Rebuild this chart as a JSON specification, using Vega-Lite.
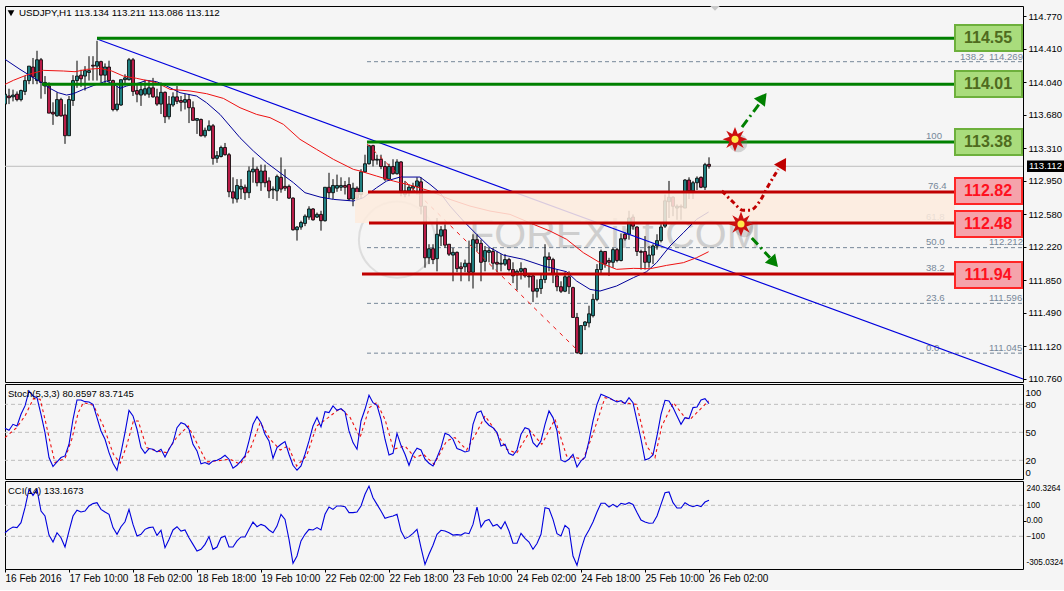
{
"$schema":"https://vega.github.io/schema/vega-lite/v6.json",
"background":"#F5F5F5",
"padding":{"left":2,"top":5,"right":0,"bottom":6},
"spacing":2,
"bounds":"flush",
"config":{"scale":{"continuousPadding":0},"view":{"stroke":"#000000","strokeWidth":1,"fill":"#F5F5F5"},"text":{"font":"Liberation Sans"},"axis":{"labelFont":"Liberation Sans","labelFontSize":9.5,"labelColor":"#000000","tickColor":"#000000","domain":false,"grid":false,"labelBound":false}},
"datasets":{
"candles":[
{"bar":0,"open":113.80,"high":113.91,"low":113.58,"close":113.91},{"bar":1,"open":113.89,"high":113.97,"low":113.80,"close":113.87},{"bar":2,"open":113.88,"high":113.96,"low":113.83,"close":113.90},{"bar":3,"open":113.91,"high":113.94,"low":113.83,"close":113.85},{"bar":4,"open":113.85,"high":113.96,"low":113.83,"close":113.95},{"bar":5,"open":113.94,"high":114.11,"low":113.90,"close":114.06},{"bar":6,"open":114.06,"high":114.22,"low":114.02,"close":114.22},{"bar":7,"open":114.21,"high":114.31,"low":114.02,"close":114.10},{"bar":8,"open":114.06,"high":114.39,"low":114.02,"close":114.29},{"bar":9,"open":114.29,"high":114.31,"low":113.86,"close":114.04},
{"bar":10,"open":114.00,"high":114.11,"low":113.91,"close":114.04},{"bar":11,"open":114.00,"high":114.04,"low":113.70,"close":113.70},{"bar":12,"open":113.71,"high":113.82,"low":113.57,"close":113.69},{"bar":13,"open":113.67,"high":113.93,"low":113.66,"close":113.85},{"bar":14,"open":113.85,"high":113.87,"low":113.66,"close":113.67},{"bar":15,"open":113.68,"high":113.80,"low":113.36,"close":113.45},{"bar":16,"open":113.45,"high":113.89,"low":113.45,"close":113.85},{"bar":17,"open":113.84,"high":114.12,"low":113.78,"close":114.06},{"bar":18,"open":114.06,"high":114.28,"low":113.98,"close":114.11},{"bar":19,"open":114.12,"high":114.18,"low":113.99,"close":114.08},
{"bar":20,"open":114.11,"high":114.22,"low":113.95,"close":114.17},{"bar":21,"open":114.15,"high":114.33,"low":114.06,"close":114.17},{"bar":22,"open":114.23,"high":114.33,"low":114.06,"close":114.22},{"bar":23,"open":114.22,"high":114.50,"low":114.06,"close":114.27},{"bar":24,"open":114.27,"high":114.28,"low":114.04,"close":114.12},{"bar":25,"open":114.12,"high":114.25,"low":114.02,"close":114.21},{"bar":26,"open":114.21,"high":114.28,"low":114.04,"close":114.06},{"bar":27,"open":114.06,"high":114.07,"low":113.72,"close":113.74},{"bar":28,"open":113.74,"high":114.00,"low":113.72,"close":113.80},{"bar":29,"open":113.79,"high":114.07,"low":113.78,"close":114.07},
{"bar":30,"open":114.07,"high":114.13,"low":114.03,"close":114.09},{"bar":31,"open":114.07,"high":114.31,"low":114.06,"close":114.29},{"bar":32,"open":114.29,"high":114.31,"low":113.89,"close":113.94},{"bar":33,"open":113.95,"high":114.01,"low":113.82,"close":113.91},{"bar":34,"open":113.90,"high":114.04,"low":113.78,"close":113.96},{"bar":35,"open":113.91,"high":114.07,"low":113.89,"close":113.97},{"bar":36,"open":113.91,"high":114.06,"low":113.87,"close":113.98},{"bar":37,"open":113.98,"high":114.09,"low":113.87,"close":113.88},{"bar":38,"open":113.88,"high":113.97,"low":113.78,"close":113.80},{"bar":39,"open":113.80,"high":114.04,"low":113.69,"close":113.93},
{"bar":40,"open":113.93,"high":113.94,"low":113.59,"close":113.66},{"bar":41,"open":113.66,"high":113.89,"low":113.63,"close":113.80},{"bar":42,"open":113.79,"high":113.93,"low":113.77,"close":113.88},{"bar":43,"open":113.88,"high":114.00,"low":113.80,"close":113.83},{"bar":44,"open":113.84,"high":113.89,"low":113.72,"close":113.82},{"bar":45,"open":113.82,"high":113.91,"low":113.74,"close":113.85},{"bar":46,"open":113.85,"high":113.91,"low":113.59,"close":113.76},{"bar":47,"open":113.76,"high":113.83,"low":113.62,"close":113.62},{"bar":48,"open":113.62,"high":113.64,"low":113.47,"close":113.64},{"bar":49,"open":113.63,"high":113.64,"low":113.44,"close":113.45},
{"bar":50,"open":113.45,"high":113.54,"low":113.43,"close":113.51},{"bar":51,"open":113.51,"high":113.62,"low":113.50,"close":113.56},{"bar":52,"open":113.56,"high":113.58,"low":113.13,"close":113.20},{"bar":53,"open":113.20,"high":113.28,"low":113.15,"close":113.23},{"bar":54,"open":113.22,"high":113.34,"low":113.21,"close":113.32},{"bar":55,"open":113.32,"high":113.37,"low":113.23,"close":113.24},{"bar":56,"open":113.24,"high":113.26,"low":112.77,"close":112.83},{"bar":57,"open":112.83,"high":112.99,"low":112.70,"close":112.76},{"bar":58,"open":112.75,"high":112.97,"low":112.71,"close":112.90},{"bar":59,"open":112.86,"high":112.97,"low":112.75,"close":112.89},
{"bar":60,"open":112.88,"high":112.91,"low":112.74,"close":112.82},{"bar":61,"open":112.82,"high":113.11,"low":112.76,"close":113.06},{"bar":62,"open":113.05,"high":113.21,"low":112.93,"close":113.08},{"bar":63,"open":113.08,"high":113.11,"low":112.89,"close":112.93},{"bar":64,"open":112.93,"high":113.13,"low":112.84,"close":113.06},{"bar":65,"open":113.06,"high":113.13,"low":112.88,"close":112.93},{"bar":66,"open":112.95,"high":112.99,"low":112.76,"close":112.84},{"bar":67,"open":112.85,"high":112.89,"low":112.75,"close":112.86},{"bar":68,"open":112.84,"high":113.02,"low":112.73,"close":113.00},{"bar":69,"open":112.99,"high":113.21,"low":112.82,"close":112.86},
{"bar":70,"open":112.89,"high":113.08,"low":112.84,"close":112.87},{"bar":71,"open":112.89,"high":112.91,"low":112.75,"close":112.76},{"bar":72,"open":112.76,"high":112.77,"low":112.40,"close":112.41},{"bar":73,"open":112.41,"high":112.45,"low":112.29,"close":112.44},{"bar":74,"open":112.44,"high":112.51,"low":112.41,"close":112.49},{"bar":75,"open":112.48,"high":112.58,"low":112.45,"close":112.56},{"bar":76,"open":112.55,"high":112.67,"low":112.52,"close":112.64},{"bar":77,"open":112.64,"high":112.65,"low":112.51,"close":112.52},{"bar":78,"open":112.55,"high":112.60,"low":112.54,"close":112.58},{"bar":79,"open":112.58,"high":112.62,"low":112.40,"close":112.51},
{"bar":80,"open":112.51,"high":112.88,"low":112.50,"close":112.88},{"bar":81,"open":112.88,"high":113.04,"low":112.76,"close":112.82},{"bar":82,"open":112.82,"high":112.97,"low":112.75,"close":112.90},{"bar":83,"open":112.87,"high":113.02,"low":112.83,"close":112.90},{"bar":84,"open":112.88,"high":112.99,"low":112.84,"close":112.90},{"bar":85,"open":112.90,"high":112.95,"low":112.80,"close":112.88},{"bar":86,"open":112.91,"high":112.99,"low":112.73,"close":112.75},{"bar":87,"open":112.75,"high":112.93,"low":112.67,"close":112.87},{"bar":88,"open":112.87,"high":112.89,"low":112.75,"close":112.76},{"bar":89,"open":112.80,"high":113.08,"low":112.75,"close":113.05},
{"bar":90,"open":113.05,"high":113.24,"low":113.04,"close":113.14},{"bar":91,"open":113.14,"high":113.35,"low":113.13,"close":113.34},{"bar":92,"open":113.34,"high":113.35,"low":113.11,"close":113.18},{"bar":93,"open":113.18,"high":113.24,"low":113.13,"close":113.19},{"bar":94,"open":113.19,"high":113.24,"low":113.08,"close":113.11},{"bar":95,"open":113.11,"high":113.17,"low":112.95,"close":112.97},{"bar":96,"open":112.97,"high":113.14,"low":112.95,"close":113.11},{"bar":97,"open":113.11,"high":113.19,"low":113.02,"close":113.03},{"bar":98,"open":113.03,"high":113.19,"low":113.02,"close":113.16},{"bar":99,"open":113.16,"high":113.17,"low":112.78,"close":112.84},
{"bar":100,"open":112.80,"high":112.95,"low":112.77,"close":112.84},{"bar":101,"open":112.84,"high":112.91,"low":112.78,"close":112.88},{"bar":102,"open":112.87,"high":112.93,"low":112.82,"close":112.89},{"bar":103,"open":112.89,"high":112.99,"low":112.80,"close":112.95},{"bar":104,"open":112.94,"high":112.99,"low":112.58,"close":112.67},{"bar":105,"open":112.67,"high":112.67,"low":111.99,"close":112.10},{"bar":106,"open":112.10,"high":112.25,"low":112.03,"close":112.20},{"bar":107,"open":112.20,"high":112.25,"low":112.03,"close":112.08},{"bar":108,"open":112.09,"high":112.54,"low":111.95,"close":112.36},{"bar":109,"open":112.34,"high":112.45,"low":112.23,"close":112.41},
{"bar":110,"open":112.41,"high":112.47,"low":112.21,"close":112.24},{"bar":111,"open":112.25,"high":112.25,"low":112.12,"close":112.14},{"bar":112,"open":112.13,"high":112.21,"low":111.84,"close":112.16},{"bar":113,"open":112.16,"high":112.17,"low":111.94,"close":111.98},{"bar":114,"open":112.00,"high":112.05,"low":111.84,"close":111.98},{"bar":115,"open":112.00,"high":112.08,"low":111.94,"close":112.04},{"bar":116,"open":112.04,"high":112.29,"low":111.84,"close":111.94},{"bar":117,"open":111.94,"high":112.36,"low":111.76,"close":112.30},{"bar":118,"open":112.30,"high":112.36,"low":112.17,"close":112.26},{"bar":119,"open":112.26,"high":112.30,"low":111.84,"close":112.05},
{"bar":120,"open":112.06,"high":112.23,"low":111.95,"close":112.18},{"bar":121,"open":112.16,"high":112.21,"low":112.05,"close":112.18},{"bar":122,"open":112.17,"high":112.21,"low":111.97,"close":112.04},{"bar":123,"open":112.05,"high":112.17,"low":111.94,"close":112.03},{"bar":124,"open":112.03,"high":112.14,"low":111.95,"close":112.04},{"bar":125,"open":112.03,"high":112.14,"low":112.01,"close":112.08},{"bar":126,"open":112.08,"high":112.10,"low":111.95,"close":111.97},{"bar":127,"open":111.97,"high":112.05,"low":111.82,"close":111.90},{"bar":128,"open":111.91,"high":111.97,"low":111.74,"close":111.95},{"bar":129,"open":111.95,"high":112.05,"low":111.86,"close":111.98},
{"bar":130,"open":111.98,"high":111.99,"low":111.88,"close":111.90},{"bar":131,"open":111.90,"high":111.92,"low":111.77,"close":111.89},{"bar":132,"open":111.90,"high":111.92,"low":111.61,"close":111.73},{"bar":133,"open":111.73,"high":111.86,"low":111.66,"close":111.76},{"bar":134,"open":111.76,"high":111.92,"low":111.70,"close":111.86},{"bar":135,"open":111.86,"high":112.25,"low":111.82,"close":112.11},{"bar":136,"open":112.11,"high":112.16,"low":111.95,"close":112.08},{"bar":137,"open":112.08,"high":112.10,"low":111.82,"close":111.92},{"bar":138,"open":111.90,"high":111.97,"low":111.73,"close":111.78},{"bar":139,"open":111.78,"high":111.84,"low":111.71,"close":111.73},
{"bar":140,"open":111.73,"high":111.94,"low":111.72,"close":111.89},{"bar":141,"open":111.89,"high":111.95,"low":111.70,"close":111.78},{"bar":142,"open":111.77,"high":111.78,"low":111.44,"close":111.44},{"bar":143,"open":111.44,"high":111.49,"low":111.04,"close":111.05},{"bar":144,"open":111.04,"high":111.35,"low":111.03,"close":111.35},{"bar":145,"open":111.35,"high":111.40,"low":111.30,"close":111.39},{"bar":146,"open":111.38,"high":111.57,"low":111.33,"close":111.48},{"bar":147,"open":111.46,"high":111.70,"low":111.44,"close":111.64},{"bar":148,"open":111.64,"high":112.03,"low":111.62,"close":111.97},{"bar":149,"open":111.97,"high":112.19,"low":111.92,"close":112.17},
{"bar":150,"open":112.17,"high":112.17,"low":111.99,"close":112.03},{"bar":151,"open":112.07,"high":112.10,"low":111.90,"close":112.05},{"bar":152,"open":112.05,"high":112.21,"low":111.99,"close":112.19},{"bar":153,"open":112.19,"high":112.21,"low":112.05,"close":112.07},{"bar":154,"open":112.07,"high":112.37,"low":112.06,"close":112.31},{"bar":155,"open":112.36,"high":112.38,"low":112.29,"close":112.31},{"bar":156,"open":112.36,"high":112.62,"low":112.30,"close":112.54},{"bar":157,"open":112.55,"high":112.58,"low":112.41,"close":112.45},{"bar":158,"open":112.44,"high":112.45,"low":112.12,"close":112.17},{"bar":159,"open":112.17,"high":112.19,"low":111.97,"close":112.16},
{"bar":160,"open":112.17,"high":112.34,"low":111.97,"close":112.05},{"bar":161,"open":112.05,"high":112.23,"low":111.99,"close":112.13},{"bar":162,"open":112.13,"high":112.25,"low":112.03,"close":112.23},{"bar":163,"open":112.23,"high":112.36,"low":112.19,"close":112.29},{"bar":164,"open":112.29,"high":112.47,"low":112.27,"close":112.44},{"bar":165,"open":112.45,"high":112.80,"low":112.43,"close":112.73},{"bar":166,"open":112.72,"high":112.95,"low":112.54,"close":112.77},{"bar":167,"open":112.77,"high":112.78,"low":112.56,"close":112.67},{"bar":168,"open":112.65,"high":112.69,"low":112.52,"close":112.67},{"bar":169,"open":112.67,"high":112.69,"low":112.52,"close":112.66},
{"bar":170,"open":112.65,"high":112.97,"low":112.65,"close":112.96},{"bar":171,"open":112.96,"high":112.99,"low":112.75,"close":112.84},{"bar":172,"open":112.84,"high":112.95,"low":112.75,"close":112.93},{"bar":173,"open":112.93,"high":113.00,"low":112.85,"close":112.98},{"bar":174,"open":112.99,"high":113.00,"low":112.87,"close":112.88},{"bar":175,"open":112.88,"high":113.15,"low":112.85,"close":113.13},{"bar":176,"open":113.134,"high":113.211,"low":113.086,"close":113.112}
],
"maFast":[{"bar":0,"price":114.295},{"bar":3.75,"price":114.184},{"bar":7.1,"price":114.092},{"bar":9.2,"price":114.037},{"bar":11.25,"price":113.974},{"bar":13.3,"price":113.926},{"bar":15.4,"price":113.9},{"bar":17.1,"price":113.915},{"bar":19.6,"price":113.963},{"bar":22.9,"price":114.018},{"bar":25.4,"price":114.055},{"bar":27.5,"price":114.011},{"bar":28.75,"price":113.974},{"bar":30.4,"price":114.0},{"bar":33.75,"price":114.037},{"bar":35.4,"price":114.063},{"bar":37.9,"price":114.048},{"bar":40.4,"price":114.0},{"bar":43.75,"price":113.926},{"bar":47.9,"price":113.889},{"bar":50.4,"price":113.815},{"bar":53.75,"price":113.686},{"bar":56.25,"price":113.557},{"bar":58.75,"price":113.428},{"bar":62.1,"price":113.281},{"bar":65.4,"price":113.152},{"bar":68.75,"price":113.041},{"bar":72.1,"price":112.931},{"bar":75,"price":112.82},{"bar":78.75,"price":112.772},{"bar":82.1,"price":112.746},{"bar":87.1,"price":112.728},{"bar":89.6,"price":112.765},{"bar":92.9,"price":112.875},{"bar":95.4,"price":112.949},{"bar":98.75,"price":112.993},{"bar":103.75,"price":112.993},{"bar":106.25,"price":112.912},{"bar":108.75,"price":112.82},{"bar":111.25,"price":112.672},{"bar":114.6,"price":112.507},{"bar":117.9,"price":112.359},{"bar":121.25,"price":112.212},{"bar":124.6,"price":112.13},{"bar":129.6,"price":112.083},{"bar":134.6,"price":112.009},{"bar":140.4,"price":111.946},{"bar":142.9,"price":111.843},{"bar":146.25,"price":111.751},{"bar":148.75,"price":111.732},{"bar":152.9,"price":111.788},{"bar":157.1,"price":111.88},{"bar":160.4,"price":111.946},{"bar":162.9,"price":112.046},{"bar":166.25,"price":112.23},{"bar":169.6,"price":112.377},{"bar":172.9,"price":112.525},{"bar":175.9,"price":112.606}],
"maSlow":[{"bar":0,"price":114.018},{"bar":2.1,"price":114.063},{"bar":5.4,"price":114.121},{"bar":9.6,"price":114.173},{"bar":14.6,"price":114.166},{"bar":17.5,"price":114.158},{"bar":20.4,"price":114.184},{"bar":23.75,"price":114.195},{"bar":26.7,"price":114.166},{"bar":29.6,"price":114.11},{"bar":32.9,"price":114.085},{"bar":37.9,"price":114.037},{"bar":41.25,"price":113.963},{"bar":46.25,"price":113.945},{"bar":50.4,"price":113.915},{"bar":54.6,"price":113.863},{"bar":58.75,"price":113.76},{"bar":62.9,"price":113.686},{"bar":66.25,"price":113.65},{"bar":69.6,"price":113.576},{"bar":73.75,"price":113.41},{"bar":77.9,"price":113.299},{"bar":82.1,"price":113.189},{"bar":87.1,"price":113.078},{"bar":88.75,"price":113.06},{"bar":92.9,"price":113.004},{"bar":97.1,"price":112.949},{"bar":102.1,"price":112.894},{"bar":106.25,"price":112.838},{"bar":111.25,"price":112.746},{"bar":116.25,"price":112.672},{"bar":121.25,"price":112.617},{"bar":126.25,"price":112.58},{"bar":132.1,"price":112.47},{"bar":136.25,"price":112.396},{"bar":140.4,"price":112.304},{"bar":144.6,"price":112.156},{"bar":148.75,"price":112.046},{"bar":152.9,"price":111.972},{"bar":157.1,"price":111.983},{"bar":161.25,"price":111.979},{"bar":165.4,"price":112.016},{"bar":169.6,"price":112.046},{"bar":172.9,"price":112.101},{"bar":175.9,"price":112.167}],
"stochMain":[{"bar":0,"value":54.4},{"bar":1,"value":52.2},{"bar":2,"value":58.6},{"bar":3,"value":56.8},{"bar":4,"value":69.3},{"bar":5,"value":78.3},{"bar":6,"value":94.3},{"bar":7,"value":89},{"bar":8,"value":87.2},{"bar":9,"value":69.3},{"bar":10,"value":49.7},{"bar":11,"value":23},{"bar":12,"value":13.3},{"bar":13,"value":18.3},{"bar":14,"value":23},{"bar":15,"value":24.7},{"bar":16,"value":37.2},{"bar":17,"value":64},{"bar":18,"value":84.7},{"bar":19,"value":84.7},{"bar":20,"value":82.9},{"bar":21,"value":82.6},{"bar":22,"value":80},{"bar":23,"value":65.8},{"bar":24,"value":51.5},{"bar":25,"value":42.6},{"bar":26,"value":28.3},{"bar":27,"value":16.9},{"bar":28,"value":9.4},{"bar":29,"value":28.3},{"bar":30,"value":49.7},{"bar":31,"value":73.6},{"bar":32,"value":67.6},{"bar":33,"value":53.3},{"bar":34,"value":33.6},{"bar":35,"value":27.6},{"bar":36,"value":32.6},{"bar":37,"value":31.9},{"bar":38,"value":29},{"bar":39,"value":31.9},{"bar":40,"value":23.6},{"bar":41,"value":31.9},{"bar":42,"value":39},{"bar":43,"value":55},{"bar":44,"value":60.4},{"bar":45,"value":58.6},{"bar":46,"value":53.3},{"bar":47,"value":37.2},{"bar":48,"value":30.1},{"bar":49,"value":16.2},{"bar":50,"value":17.6},{"bar":51,"value":15.8},{"bar":52,"value":19.4},{"bar":53,"value":20.1},{"bar":54,"value":22.2},{"bar":55,"value":25.4},{"bar":56,"value":21.2},{"bar":57,"value":11.5},{"bar":58,"value":14.7},{"bar":59,"value":19.4},{"bar":60,"value":24.7},{"bar":61,"value":40.8},{"bar":62,"value":58.6},{"bar":63,"value":66.8},{"bar":64,"value":60.4},{"bar":65,"value":47.9},{"bar":66,"value":40.8},{"bar":67,"value":22.2},{"bar":68,"value":33.6},{"bar":69,"value":37.2},{"bar":70,"value":40.1},{"bar":71,"value":26.5},{"bar":72,"value":14.7},{"bar":73,"value":9.4},{"bar":74,"value":14},{"bar":75,"value":26.5},{"bar":76,"value":40.8},{"bar":77,"value":56.8},{"bar":78,"value":65.8},{"bar":79,"value":55.8},{"bar":80,"value":72.2},{"bar":81,"value":71.1},{"bar":82,"value":78.3},{"bar":83,"value":73.6},{"bar":84,"value":75.4},{"bar":85,"value":71.8},{"bar":86,"value":51.5},{"bar":87,"value":39},{"bar":88,"value":31.9},{"bar":89,"value":62.2},{"bar":90,"value":74.7},{"bar":91,"value":89.7},{"bar":92,"value":81.8},{"bar":93,"value":79},{"bar":94,"value":64},{"bar":95,"value":42.6},{"bar":96,"value":25.8},{"bar":97,"value":27.6},{"bar":98,"value":49},{"bar":99,"value":36.1},{"bar":100,"value":26.5},{"bar":101,"value":14.7},{"bar":102,"value":26.5},{"bar":103,"value":32.9},{"bar":104,"value":31.1},{"bar":105,"value":21.2},{"bar":106,"value":16.9},{"bar":107,"value":14},{"bar":108,"value":23},{"bar":109,"value":33.6},{"bar":110,"value":49},{"bar":111,"value":47.2},{"bar":112,"value":42.6},{"bar":113,"value":32.6},{"bar":114,"value":31.1},{"bar":115,"value":29},{"bar":116,"value":30.1},{"bar":117,"value":58.6},{"bar":118,"value":71.1},{"bar":119,"value":72.9},{"bar":120,"value":62.2},{"bar":121,"value":57.6},{"bar":122,"value":55},{"bar":123,"value":49.7},{"bar":124,"value":35.4},{"bar":125,"value":37.2},{"bar":126,"value":27.2},{"bar":127,"value":25.4},{"bar":128,"value":31.1},{"bar":129,"value":47.9},{"bar":130,"value":55},{"bar":131,"value":53.3},{"bar":132,"value":39},{"bar":133,"value":34.4},{"bar":134,"value":40.8},{"bar":135,"value":58.6},{"bar":136,"value":72.9},{"bar":137,"value":65.8},{"bar":138,"value":51.5},{"bar":139,"value":20.4},{"bar":140,"value":18.3},{"bar":141,"value":21.2},{"bar":142,"value":26.5},{"bar":143,"value":12.9},{"bar":144,"value":19.4},{"bar":145,"value":23},{"bar":146,"value":40.8},{"bar":147,"value":62.2},{"bar":148,"value":80},{"bar":149,"value":90.8},{"bar":150,"value":89},{"bar":151,"value":87.2},{"bar":152,"value":84.7},{"bar":153,"value":82.6},{"bar":154,"value":84},{"bar":155,"value":80.8},{"bar":156,"value":87.2},{"bar":157,"value":81.8},{"bar":158,"value":62.2},{"bar":159,"value":42.6},{"bar":160,"value":20.4},{"bar":161,"value":21.9},{"bar":162,"value":25.8},{"bar":163,"value":46.1},{"bar":164,"value":69.3},{"bar":165,"value":84.3},{"bar":166,"value":83.6},{"bar":167,"value":76.5},{"bar":168,"value":67.6},{"bar":169,"value":58.6},{"bar":170,"value":65.8},{"bar":171,"value":64.7},{"bar":172,"value":76.5},{"bar":173,"value":77.2},{"bar":174,"value":84.7},{"bar":175,"value":86.1},{"bar":176,"value":80.86}],
"stochSignal":[{"bar":0,"value":44.4},{"bar":2.9,"value":55},{"bar":5,"value":67.6},{"bar":7.1,"value":86.1},{"bar":8.8,"value":85.4},{"bar":10,"value":64},{"bar":11.3,"value":39},{"bar":12.5,"value":17.6},{"bar":15,"value":21.9},{"bar":16.7,"value":42.6},{"bar":18.3,"value":71.1},{"bar":19.6,"value":81.8},{"bar":22.1,"value":79},{"bar":24.6,"value":56.8},{"bar":27.1,"value":26.5},{"bar":28.8,"value":16.9},{"bar":30.4,"value":35.4},{"bar":32.1,"value":62.2},{"bar":33.3,"value":62.2},{"bar":35.4,"value":33.6},{"bar":37.9,"value":30.1},{"bar":40.4,"value":28.3},{"bar":42.9,"value":44.4},{"bar":45.8,"value":56.8},{"bar":47.9,"value":39},{"bar":50.4,"value":18.3},{"bar":52.9,"value":19.4},{"bar":56.3,"value":21.2},{"bar":58.8,"value":15.8},{"bar":61.3,"value":31.9},{"bar":63.8,"value":60.4},{"bar":66.3,"value":42.6},{"bar":68.8,"value":31.1},{"bar":70.8,"value":35.4},{"bar":72.9,"value":14},{"bar":75.4,"value":24.7},{"bar":77.9,"value":56.8},{"bar":80.8,"value":65.8},{"bar":83.8,"value":75.8},{"bar":86.3,"value":65.8},{"bar":88.75,"value":44.4},{"bar":91.1,"value":76.5},{"bar":92.9,"value":81.8},{"bar":95,"value":64},{"bar":97.1,"value":31.9},{"bar":100,"value":35.4},{"bar":102.5,"value":22.9},{"bar":104.6,"value":26.5},{"bar":107.3,"value":15.8},{"bar":110.4,"value":40.8},{"bar":112.5,"value":44.4},{"bar":115.4,"value":31.1},{"bar":117.9,"value":49.7},{"bar":120,"value":67.6},{"bar":122.1,"value":55},{"bar":125.4,"value":31.9},{"bar":127.9,"value":27.6},{"bar":131.3,"value":51.5},{"bar":134.2,"value":37.2},{"bar":137.5,"value":64},{"bar":140.4,"value":24.7},{"bar":144.6,"value":21.2},{"bar":147.1,"value":49.7},{"bar":150,"value":87.2},{"bar":154.6,"value":81.8},{"bar":157.9,"value":80},{"bar":160.4,"value":35.4},{"bar":162.5,"value":22.9},{"bar":164.2,"value":56.8},{"bar":167.1,"value":81.8},{"bar":170,"value":65.8},{"bar":171.3,"value":64},{"bar":173.8,"value":74.7},{"bar":175.9,"value":83.7}],
"cci":[{"bar":0,"value":-77},{"bar":1,"value":-55},{"bar":2,"value":-40},{"bar":3,"value":-44},{"bar":4,"value":-12},{"bar":5,"value":85},{"bar":6,"value":203},{"bar":7,"value":164},{"bar":8,"value":203},{"bar":9,"value":63},{"bar":10,"value":31},{"bar":11,"value":-92},{"bar":12,"value":-137},{"bar":13,"value":-77},{"bar":14,"value":-109},{"bar":15,"value":-169},{"bar":16,"value":-66},{"bar":17,"value":31},{"bar":18,"value":68},{"bar":19,"value":57},{"bar":20,"value":63},{"bar":21,"value":96},{"bar":22,"value":111},{"bar":23,"value":117},{"bar":24,"value":74},{"bar":25,"value":57},{"bar":26,"value":42},{"bar":27,"value":-44},{"bar":28,"value":-87},{"bar":29,"value":-38},{"bar":30,"value":-6},{"bar":31,"value":74},{"bar":32,"value":-23},{"bar":33,"value":-98},{"bar":34,"value":-87},{"bar":35,"value":-55},{"bar":36,"value":-44},{"bar":37,"value":-40},{"bar":38,"value":-94},{"bar":39,"value":-61},{"bar":40,"value":-173},{"bar":41,"value":-120},{"bar":42,"value":-59},{"bar":43,"value":-38},{"bar":44,"value":-66},{"bar":45,"value":-59},{"bar":46,"value":-109},{"bar":47,"value":-152},{"bar":48,"value":-195},{"bar":49,"value":-184},{"bar":50,"value":-152},{"bar":51,"value":-102},{"bar":52,"value":-184},{"bar":53,"value":-169},{"bar":54,"value":-109},{"bar":55,"value":-98},{"bar":56,"value":-169},{"bar":57,"value":-169},{"bar":58,"value":-130},{"bar":59,"value":-104},{"bar":60,"value":-104},{"bar":61,"value":-55},{"bar":62,"value":-8},{"bar":63,"value":-38},{"bar":64,"value":-23},{"bar":65,"value":-34},{"bar":66,"value":-59},{"bar":67,"value":-77},{"bar":68,"value":-34},{"bar":69,"value":42},{"bar":70,"value":9},{"bar":71,"value":-120},{"bar":72,"value":-274},{"bar":73,"value":-227},{"bar":74,"value":-130},{"bar":75,"value":-87},{"bar":76,"value":-55},{"bar":77,"value":-59},{"bar":78,"value":-44},{"bar":79,"value":-59},{"bar":80,"value":42},{"bar":81,"value":89},{"bar":82,"value":74},{"bar":83,"value":96},{"bar":84,"value":96},{"bar":85,"value":91},{"bar":86,"value":53},{"bar":87,"value":53},{"bar":88,"value":57},{"bar":89,"value":96},{"bar":90,"value":171},{"bar":91,"value":224},{"bar":92,"value":149},{"bar":93,"value":106},{"bar":94,"value":63},{"bar":95,"value":16},{"bar":96,"value":25},{"bar":97,"value":31},{"bar":98,"value":42},{"bar":99,"value":-66},{"bar":100,"value":-115},{"bar":101,"value":-102},{"bar":102,"value":-81},{"bar":103,"value":-55},{"bar":104,"value":-173},{"bar":105,"value":-281},{"bar":106,"value":-216},{"bar":107,"value":-158},{"bar":108,"value":-87},{"bar":109,"value":-61},{"bar":110,"value":-66},{"bar":111,"value":-77},{"bar":112,"value":-92},{"bar":113,"value":-89},{"bar":114,"value":-92},{"bar":115,"value":-77},{"bar":116,"value":-83},{"bar":117,"value":-23},{"bar":118,"value":89},{"bar":119,"value":-40},{"bar":120,"value":-1},{"bar":121,"value":9},{"bar":122,"value":-34},{"bar":123,"value":-23},{"bar":124,"value":-51},{"bar":125,"value":-6},{"bar":126,"value":-66},{"bar":127,"value":-145},{"bar":128,"value":-145},{"bar":129,"value":-81},{"bar":130,"value":-113},{"bar":131,"value":-137},{"bar":132,"value":-184},{"bar":133,"value":-147},{"bar":134,"value":-87},{"bar":135,"value":85},{"bar":136,"value":78},{"bar":137,"value":9},{"bar":138,"value":-83},{"bar":139,"value":-98},{"bar":140,"value":-29},{"bar":141,"value":-51},{"bar":142,"value":-227},{"bar":143,"value":-287},{"bar":144,"value":-184},{"bar":145,"value":-104},{"bar":146,"value":-59},{"bar":147,"value":-8},{"bar":148,"value":57},{"bar":149,"value":113},{"bar":150,"value":113},{"bar":151,"value":89},{"bar":152,"value":106},{"bar":153,"value":89},{"bar":154,"value":113},{"bar":155,"value":106},{"bar":156,"value":117},{"bar":157,"value":106},{"bar":158,"value":53},{"bar":159,"value":5},{"bar":160,"value":-8},{"bar":161,"value":-16},{"bar":162,"value":-14},{"bar":163,"value":31},{"bar":164,"value":106},{"bar":165,"value":181},{"bar":166,"value":186},{"bar":167,"value":117},{"bar":168,"value":83},{"bar":169,"value":83},{"bar":170,"value":117},{"bar":171,"value":100},{"bar":172,"value":91},{"bar":173,"value":100},{"bar":174,"value":91},{"bar":175,"value":121},{"bar":176,"value":133.1673}],
"levels":[
{"label":"114.55","kind":"resistance","start":23,"end":254.5,"price":114.527,"boxTop":114.675,"boxBottom":114.387,"left":237.5,"right":254.25,"mid":245.75,"textPrice":114.53},
{"label":"114.01","kind":"resistance","start":9.25,"end":238,"price":114.02,"boxTop":114.166,"boxBottom":113.878,"left":237.5,"right":254.25,"mid":245.75,"textPrice":114.02},
{"label":"113.38","kind":"resistance","start":90.5,"end":254.5,"price":113.38,"boxTop":113.524,"boxBottom":113.237,"left":237.5,"right":254.25,"mid":245.75,"textPrice":113.38},
{"label":"112.82","kind":"support","start":90.75,"end":238,"price":112.827,"boxTop":112.982,"boxBottom":112.695,"left":237.5,"right":254.25,"mid":245.75,"textPrice":112.84},
{"label":"112.48","kind":"support","start":91,"end":238,"price":112.485,"boxTop":112.617,"boxBottom":112.33,"left":237.5,"right":254.25,"mid":245.75,"textPrice":112.474},
{"label":"111.94","kind":"support","start":89.25,"end":238,"price":111.921,"boxTop":112.053,"boxBottom":111.766,"left":237.5,"right":254.25,"mid":245.75,"textPrice":111.91}
],
"fibLevels":[{"price":114.269,"start":90.5,"end":254.25},{"price":112.212,"start":90.5,"end":254.25},{"price":111.596,"start":90.5,"end":254.25},{"price":111.045,"start":90.5,"end":254.25}],
"fibLabels":[
{"bar":238.75,"price":114.326,"label":"138.2"},{"bar":246,"price":114.326,"label":"114.269"},{"bar":230.25,"price":113.447,"label":"100"},{"bar":230.75,"price":112.894,"label":"76.4"},{"bar":230.25,"price":112.546,"label":"61.8"},{"bar":230.25,"price":112.275,"label":"50.0"},{"bar":246,"price":112.275,"label":"112.212"},{"bar":230.25,"price":111.99,"label":"38.2"},{"bar":230.25,"price":111.655,"label":"23.6"},{"bar":246,"price":111.655,"label":"111.596"},{"bar":230.25,"price":111.106,"label":"0.0"},{"bar":246,"price":111.106,"label":"111.045"}
]
},
"vconcat":[
{"width":1018,"height":376,
"resolve":{"scale":{"color":"independent","stroke":"independent"}},
"layer":[
{"data":{"values":[{"bar":0,"end":254.5,"price":113.112}]},"mark":{"type":"rule","color":"#BDBDBD","strokeWidth":1},
"encoding":{"x":{"field":"bar","type":"quantitative","axis":null,"scale":{"domain":[0,254.5]}},"x2":{"field":"end"},
"y":{"field":"price","type":"quantitative","scale":{"domain":[110.726,114.885]},"axis":{"title":null,"orient":"right","values":[114.77,114.41,114.04,113.68,113.31,112.95,112.58,112.22,111.85,111.49,111.12,110.76],"tickCount":20,"format":".3f","tickSize":3,"labelPadding":2,"labelOverlap":false}}}},
{"data":{"values":[{"bar":98,"price":112.3}]},"mark":{"type":"point","shape":"circle","size":5800,"filled":false,"stroke":"#D4D4D4","strokeWidth":2},
"encoding":{"x":{"field":"bar","type":"quantitative","axis":null,"scale":{"domain":[0,254.5]}},"y":{"field":"price","type":"quantitative","scale":{"domain":[110.726,114.885]}}}},
{"data":{"values":[{"bar":152.5,"price":112.34,"label":"FOREXint.COM"}]},"mark":{"type":"text","fontSize":41,"align":"center","baseline":"middle","color":"#BEBEBE","opacity":0.7},
"encoding":{"x":{"field":"bar","type":"quantitative","axis":null,"scale":{"domain":[0,254.5]}},"y":{"field":"price","type":"quantitative","scale":{"domain":[110.726,114.885]}},"text":{"field":"label"}}},
{"data":{"name":"fibLevels"},"mark":{"type":"rule","color":"#778899","strokeWidth":1,"strokeDash":[4,3]},
"encoding":{"x":{"field":"start","type":"quantitative","axis":null,"scale":{"domain":[0,254.5]}},"x2":{"field":"end"},"y":{"field":"price","type":"quantitative","scale":{"domain":[110.726,114.885]}}}},
{"data":{"name":"fibLabels"},"mark":{"type":"text","fontSize":9.6,"align":"left","baseline":"middle","color":"#778899"},
"encoding":{"x":{"field":"bar","type":"quantitative","axis":null,"scale":{"domain":[0,254.5]}},"y":{"field":"price","type":"quantitative","scale":{"domain":[110.726,114.885]}},"text":{"field":"label"}}},
{"data":{"name":"candles"},"mark":{"type":"rule","color":"#000000","strokeWidth":1,"clip":true},
"encoding":{"x":{"field":"bar","type":"quantitative","axis":null,"scale":{"domain":[0,254.5]}},"y":{"field":"high","type":"quantitative","scale":{"domain":[110.726,114.885]}},"y2":{"field":"low"}}},
{"data":{"name":"candles"},"mark":{"type":"bar","size":3,"orient":"vertical","stroke":"#000000","strokeWidth":0.8,"clip":true},
"encoding":{"x":{"field":"bar","type":"quantitative","axis":null,"scale":{"domain":[0,254.5]}},"y":{"field":"open","type":"quantitative","scale":{"domain":[110.726,114.885]}},"y2":{"field":"close"},"fill":{"condition":{"test":"datum.close>=datum.open","value":"#1F7F80"},"value":"#B81C48"}}},
{"data":{"values":[{"bar":23,"price":114.52},{"bar":254.5,"price":110.76}]},"mark":{"type":"line","color":"#0000DD","strokeWidth":1.1},
"encoding":{"x":{"field":"bar","type":"quantitative","axis":null,"scale":{"domain":[0,254.5]}},"y":{"field":"price","type":"quantitative","scale":{"domain":[110.726,114.885]}}}},
{"data":{"name":"maFast"},"mark":{"type":"line","color":"#000099","strokeWidth":1},
"encoding":{"x":{"field":"bar","type":"quantitative","axis":null,"scale":{"domain":[0,254.5]}},"y":{"field":"price","type":"quantitative","scale":{"domain":[110.726,114.885]}}}},
{"data":{"name":"maSlow"},"mark":{"type":"line","color":"#EE1111","strokeWidth":1},
"encoding":{"x":{"field":"bar","type":"quantitative","axis":null,"scale":{"domain":[0,254.5]}},"y":{"field":"price","type":"quantitative","scale":{"domain":[110.726,114.885]}}}},
{"data":{"values":[{"bar":90.5,"price":113.36},{"bar":143.75,"price":111.05}]},"mark":{"type":"line","color":"#EE1111","strokeWidth":1,"strokeDash":[4,5]},
"encoding":{"x":{"field":"bar","type":"quantitative","axis":null,"scale":{"domain":[0,254.5]}},"y":{"field":"price","type":"quantitative","scale":{"domain":[110.726,114.885]}}}},
{"data":{"values":[{"start":87.5,"end":237.5,"top":112.827,"bottom":112.485}]},"mark":{"type":"rect","fill":"#FDEBDD","opacity":0.86},
"encoding":{"x":{"field":"start","type":"quantitative","axis":null,"scale":{"domain":[0,254.5]}},"x2":{"field":"end"},"y":{"field":"top","type":"quantitative","scale":{"domain":[110.726,114.885]}},"y2":{"field":"bottom"}}},
{"data":{"name":"levels"},"mark":{"type":"rule","strokeWidth":3},
"encoding":{"x":{"field":"start","type":"quantitative","axis":null,"scale":{"domain":[0,254.5]}},"x2":{"field":"end"},"y":{"field":"price","type":"quantitative","scale":{"domain":[110.726,114.885]}},"color":{"field":"kind","type":"nominal","legend":null,"scale":{"domain":["resistance","support"],"range":["#008000","#C00000"]}}}},
{"data":{"name":"levels"},"mark":{"type":"rect","strokeWidth":2},
"encoding":{"x":{"field":"left","type":"quantitative","axis":null,"scale":{"domain":[0,254.5]}},"x2":{"field":"right"},"y":{"field":"boxTop","type":"quantitative","scale":{"domain":[110.726,114.885]}},"y2":{"field":"boxBottom"},"color":{"field":"kind","type":"nominal","legend":null,"scale":{"domain":["resistance","support"],"range":["#A9DC7C","#F5A3AB"]}},"stroke":{"field":"kind","type":"nominal","legend":null,"scale":{"domain":["resistance","support"],"range":["#6DB03C","#FF2525"]}}}},
{"data":{"name":"levels"},"mark":{"type":"text","fontSize":16,"fontWeight":"bold","align":"center","baseline":"middle"},
"encoding":{"x":{"field":"mid","type":"quantitative","axis":null,"scale":{"domain":[0,254.5]}},"y":{"field":"textPrice","type":"quantitative","scale":{"domain":[110.726,114.885]}},"text":{"field":"label"},"color":{"field":"kind","type":"nominal","legend":null,"scale":{"domain":["resistance","support"],"range":["#4F6B1E","#FF1020"]}}}},
{"data":{"values":[{"bar":184.25,"price":113.546},{"bar":188.75,"price":113.812}]},"mark":{"type":"line","color":"#008000","strokeWidth":3,"strokeDash":[9,4,2,4]},
"encoding":{"x":{"field":"bar","type":"quantitative","axis":null,"scale":{"domain":[0,254.5]}},"y":{"field":"price","type":"quantitative","scale":{"domain":[110.726,114.885]}}}},
{"data":{"values":[{"bar":186.7,"price":112.32},{"bar":191.25,"price":112.1}]},"mark":{"type":"line","color":"#008000","strokeWidth":3,"strokeDash":[9,4,2,4]},
"encoding":{"x":{"field":"bar","type":"quantitative","axis":null,"scale":{"domain":[0,254.5]}},"y":{"field":"price","type":"quantitative","scale":{"domain":[110.726,114.885]}}}},
{"data":{"values":[{"bar":179.2,"price":112.84},{"bar":181.7,"price":112.73},{"bar":184.6,"price":112.625},{"bar":186.25,"price":112.625},{"bar":188.75,"price":112.73},{"bar":190.8,"price":112.894},{"bar":193.3,"price":113.079}]},"mark":{"type":"line","color":"#C00000","strokeWidth":3,"strokeDash":[5,3,2,3],"interpolate":"monotone"},
"encoding":{"x":{"field":"bar","type":"quantitative","axis":null,"scale":{"domain":[0,254.5]}},"y":{"field":"price","type":"quantitative","scale":{"domain":[110.726,114.885]}}}},
{"data":{"values":[{"bar":189.5,"price":113.87}]},"mark":{"type":"point","shape":"triangle-up","filled":true,"size":190,"color":"#008000","opacity":1,"angle":37},
"encoding":{"x":{"field":"bar","type":"quantitative","axis":null,"scale":{"domain":[0,254.5]}},"y":{"field":"price","type":"quantitative","scale":{"domain":[110.726,114.885]}}}},
{"data":{"values":[{"bar":192.25,"price":112.046}]},"mark":{"type":"point","shape":"triangle-up","filled":true,"size":190,"color":"#008000","opacity":1,"angle":138},
"encoding":{"x":{"field":"bar","type":"quantitative","axis":null,"scale":{"domain":[0,254.5]}},"y":{"field":"price","type":"quantitative","scale":{"domain":[110.726,114.885]}}}},
{"data":{"values":[{"bar":194.5,"price":113.148}]},"mark":{"type":"point","shape":"triangle-up","filled":true,"size":190,"color":"#C00000","opacity":1,"angle":31},
"encoding":{"x":{"field":"bar","type":"quantitative","axis":null,"scale":{"domain":[0,254.5]}},"y":{"field":"price","type":"quantitative","scale":{"domain":[110.726,114.885]}}}},
{"data":{"values":[{"bar":183.3,"price":113.37},{"bar":184.8,"price":112.43}]},"mark":{"type":"point","shape":"circle","filled":true,"size":340,"color":"#777777","opacity":0.28},
"encoding":{"x":{"field":"bar","type":"quantitative","axis":null,"scale":{"domain":[0,254.5]}},"y":{"field":"price","type":"quantitative","scale":{"domain":[110.726,114.885]}}}},
{"data":{"values":[{"bar":182.5,"price":113.41},{"bar":184,"price":112.474}]},"mark":{"type":"point","shape":"M0,-1L.22,-.42L.7,-.7L.44,-.2L1,0L.44,.2L.7,.7L.22,.42L0,1L-.22,.42L-.7,.7L-.44,.2L-1,0L-.44,-.2L-.7,-.7L-.22,-.42Z","filled":true,"size":620,"color":"#CC1010","opacity":1},
"encoding":{"x":{"field":"bar","type":"quantitative","axis":null,"scale":{"domain":[0,254.5]}},"y":{"field":"price","type":"quantitative","scale":{"domain":[110.726,114.885]}}}},
{"data":{"values":[{"bar":182.5,"price":113.41},{"bar":184,"price":112.474}]},"mark":{"type":"point","shape":"circle","filled":true,"size":50,"color":"#FFE84A","opacity":1},
"encoding":{"x":{"field":"bar","type":"quantitative","axis":null,"scale":{"domain":[0,254.5]}},"y":{"field":"price","type":"quantitative","scale":{"domain":[110.726,114.885]}}}},
{"data":{"values":[{"bar":1.5,"price":114.805}]},"mark":{"type":"point","shape":"triangle-down","filled":true,"size":45,"opacity":1,"color":"#000000"},
"encoding":{"x":{"field":"bar","type":"quantitative","axis":null,"scale":{"domain":[0,254.5]}},"y":{"field":"price","type":"quantitative","scale":{"domain":[110.726,114.885]}}}},
{"data":{"values":[{"bar":177.5,"price":114.885}]},"mark":{"type":"point","shape":"diamond","filled":true,"size":90,"opacity":1,"color":"#C8C8C8","clip":true},
"encoding":{"x":{"field":"bar","type":"quantitative","axis":null,"scale":{"domain":[0,254.5]}},"y":{"field":"price","type":"quantitative","scale":{"domain":[110.726,114.885]}}}},
{"data":{"values":[{"bar":3.5,"price":114.805,"label":"USDJPY,H1  113.134 113.211 113.086 113.112"}]},"mark":{"type":"text","fontSize":9.8,"align":"left","baseline":"middle","color":"#000000"},
"encoding":{"x":{"field":"bar","type":"quantitative","axis":null,"scale":{"domain":[0,254.5]}},"y":{"field":"price","type":"quantitative","scale":{"domain":[110.726,114.885]}},"text":{"field":"label"}}},
{"data":{"values":[{"start":255.5,"end":265,"top":113.176,"bottom":113.05}]},"mark":{"type":"rect","fill":"#000000"},
"encoding":{"x":{"field":"start","type":"quantitative","axis":null,"scale":{"domain":[0,254.5]}},"x2":{"field":"end"},"y":{"field":"top","type":"quantitative","scale":{"domain":[110.726,114.885]}},"y2":{"field":"bottom"}}},
{"data":{"values":[{"bar":256,"price":113.112,"label":"113.112"}]},"mark":{"type":"text","fontSize":9.5,"align":"left","baseline":"middle","color":"#FFFFFF"},
"encoding":{"x":{"field":"bar","type":"quantitative","axis":null,"scale":{"domain":[0,254.5]}},"y":{"field":"price","type":"quantitative","scale":{"domain":[110.726,114.885]}},"text":{"field":"label"}}}
]},
{"width":1018,"height":95,
"layer":[
{"data":{"values":[{"level":80},{"level":50},{"level":20}]},"mark":{"type":"rule","color":"#BDBDBD","strokeWidth":1,"strokeDash":[4,3]},
"encoding":{"y":{"field":"level","type":"quantitative","scale":{"domain":[0,101.8]},"axis":{"title":null,"orient":"right","values":[93,80,50,20,7],"tickCount":20,"ticks":false,"labelPadding":2,"labelOverlap":false,"labelExpr":"datum.value==93?'100':datum.value==7?'0':datum.label"}}}},
{"data":{"name":"stochSignal"},"mark":{"type":"line","color":"#EE1111","strokeWidth":1.1,"strokeDash":[3,3]},
"encoding":{"x":{"field":"bar","type":"quantitative","axis":null,"scale":{"domain":[0,254.5]}},"y":{"field":"value","type":"quantitative","scale":{"domain":[0,101.8]}}}},
{"data":{"name":"stochMain"},"mark":{"type":"line","color":"#0000DD","strokeWidth":1.1},
"encoding":{"x":{"field":"bar","type":"quantitative","axis":null,"scale":{"domain":[0,254.5]}},"y":{"field":"value","type":"quantitative","scale":{"domain":[0,101.8]}}}},
{"data":{"values":[{"bar":0.75,"value":91,"label":"Stoch(5,3,3) 80.8597 83.7145"}]},"mark":{"type":"text","fontSize":9.5,"align":"left","baseline":"middle","color":"#000000"},
"encoding":{"x":{"field":"bar","type":"quantitative","axis":null,"scale":{"domain":[0,254.5]}},"y":{"field":"value","type":"quantitative","scale":{"domain":[0,101.8]}},"text":{"field":"label"}}}
]},
{"width":1018,"height":88,
"layer":[
{"data":{"values":[{"level":100},{"level":-100}]},"mark":{"type":"rule","color":"#BDBDBD","strokeWidth":1,"strokeDash":[4,3]},
"encoding":{"y":{"field":"level","type":"quantitative","scale":{"domain":[-311,257]},"axis":{"title":null,"orient":"right","values":[207,100,0,-100,-270],"tickCount":20,"tickSize":3,"tickOpacity":{"condition":{"test":"datum.value===0","value":1},"value":0},"labelPadding":0,"labelFontSize":8.2,"labelOverlap":false,"labelExpr":"datum.value==207?'240.3264':datum.value==0?'0.00':datum.value==-270?'-305.0324':datum.label"}}}},
{"data":{"name":"cci"},"mark":{"type":"line","color":"#0000DD","strokeWidth":1.1},
"encoding":{"x":{"field":"bar","type":"quantitative","scale":{"domain":[0,254.5]},"axis":{"title":null,"orient":"bottom","values":[0,16,32,48,64,80,96,112,128,144,160,176],"tickCount":30,"tickSize":3,"labelAlign":"left","labelPadding":1,"labelFontSize":10,"labelAngle":0,"labelOverlap":false,"labelExpr":"['16 Feb 2016','17 Feb 10:00','18 Feb 02:00','18 Feb 18:00','19 Feb 10:00','22 Feb 02:00','22 Feb 18:00','23 Feb 10:00','24 Feb 02:00','24 Feb 18:00','25 Feb 10:00','26 Feb 02:00'][datum.value/16]"}},"y":{"field":"value","type":"quantitative","scale":{"domain":[-311,257]}}}},
{"data":{"values":[{"bar":0.75,"value":192,"label":"CCI(14) 133.1673"}]},"mark":{"type":"text","fontSize":9.5,"align":"left","baseline":"middle","color":"#000000"},
"encoding":{"x":{"field":"bar","type":"quantitative","scale":{"domain":[0,254.5]}},"y":{"field":"value","type":"quantitative","scale":{"domain":[-311,257]}},"text":{"field":"label"}}}
]}
]
}
